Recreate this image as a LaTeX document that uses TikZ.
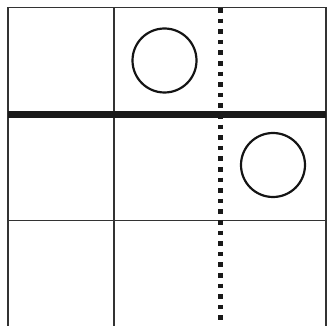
\documentclass[tikz,border=0pt]{standalone}
\begin{document}
\begin{tikzpicture}[x=1pt,y=-1pt,
  gridline/.style={draw=black!80,line width=1.6pt},
  thickline/.style={draw=black!90,line width=7pt},
  dotline/.style={draw=black!90,line width=5pt,dash pattern=on 4.6pt off 6pt},
  ring/.style={circle,draw=black!92,line width=2.2pt,minimum size=64pt,inner sep=0pt}]
\useasboundingbox (0,0) rectangle (327,326);
% grid
\draw[gridline] (8,326) -- (8,7.5) -- (326,7.5) -- (326,326);
\draw[gridline] (114,7.5) -- (114,326);
\draw[gridline] (8,220.7) -- (326,220.7);
\draw[dotline] (220,8) -- (220,326);
\draw[thickline] (8,114.7) -- (326,114.7);
\node[ring] (c1) at (164.5,60.5) {};
\node[ring] (c2) at (273,165) {};
\end{tikzpicture}
\end{document}
